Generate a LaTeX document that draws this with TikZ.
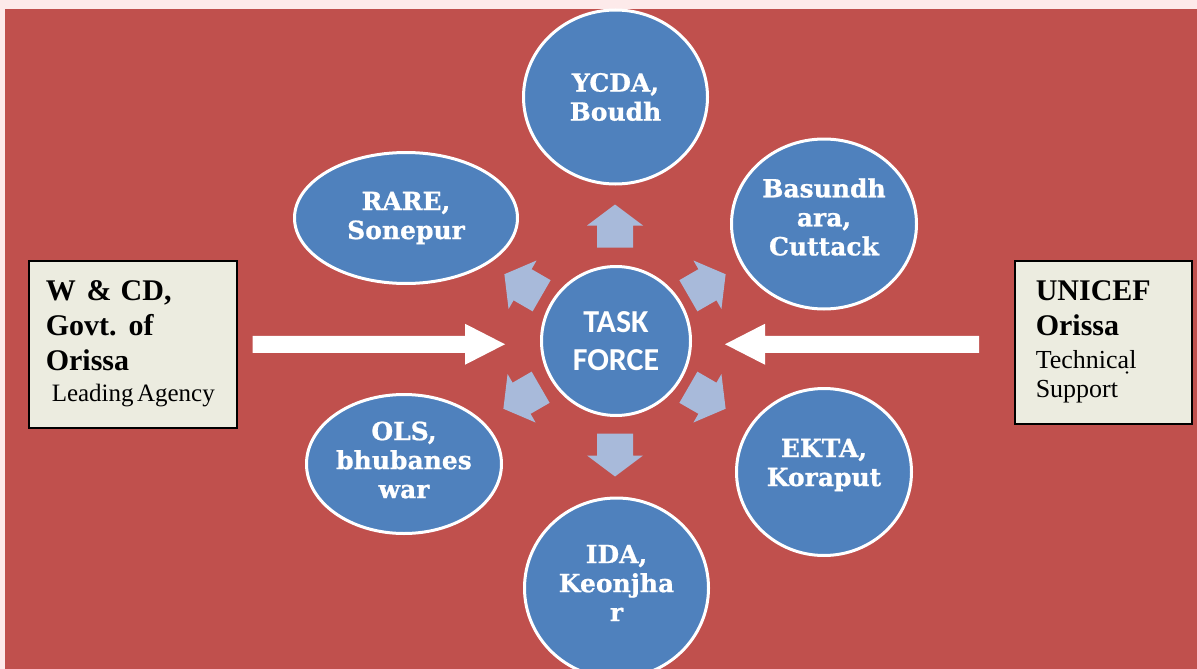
\documentclass[tikz,border=0pt]{standalone}
\usepackage{fontspec}
\setmainfont{Liberation Serif}
\newfontfamily\blobfont{DejaVu Serif}[BoldFeatures={FakeBold=0.8}]
\newfontfamily\tffont{Carlito}
\usetikzlibrary{shapes.geometric,calc}
\definecolor{bgred}{RGB}{192,80,77}
\definecolor{bgpink}{RGB}{253,234,234}
\definecolor{blobblue}{RGB}{79,129,189}
\definecolor{arrowblue}{RGB}{168,186,218}
\definecolor{boxfill}{RGB}{236,236,224}
\begin{document}
\begin{tikzpicture}[x=1pt,y=-1pt,
  blob/.style={ellipse, draw=white, line width=3pt, fill=blobblue, inner sep=0pt},
  ctext/.style={text=white, font=\blobfont\bfseries\fontsize{25}{29}\selectfont, align=center, inner sep=0pt},
  infobox/.style={draw=black, line width=1.5pt, fill=boxfill, align=left, anchor=north west, inner ysep=0pt},
  bigarrow/.style={fill=white},
  smallarrow/.pic={\fill[arrowblue] (-21.5,-18) -- (0.5,-18) -- (0.5,-28) -- (21.5,0) -- (0.5,28) -- (0.5,18) -- (-21.5,18) -- cycle;}
]
\useasboundingbox (0,0) rectangle (1197,669);
\clip (0,0) rectangle (1197,669);
\fill[bgpink] (0,0) rectangle (1197,669);
\fill[bgred] (5,9) rectangle (1197,669);

% outer blobs
\node[blob, minimum width=184, minimum height=174, label={[ctext]center:{YCDA,\\Boudh}}] (ycda) at (615.5,97) {};
\node[blob, minimum width=223, minimum height=131, label={[ctext]center:{RARE,\\Sonepur}}] (rare) at (406,218) {};
\node[blob, minimum width=185, minimum height=170, label={[ctext,yshift=7pt]center:{Basundh\\ara,\\Cuttack}}] (basu) at (824,224) {};
\node[blob, minimum width=175, minimum height=167, label={[ctext,yshift=7pt]center:{EKTA,\\Koraput}}] (ekta) at (824,472) {};
\node[blob, minimum width=184, minimum height=180, label={[ctext,yshift=5pt]center:{IDA,\\Keonjha\\r}}] (ida) at (616.5,588) {};
\node[blob, minimum width=195, minimum height=139, label={[ctext,yshift=4pt]center:{OLS,\\bhubanes\\war}}] (ols) at (404,464) {};

% centre
\node[circle, draw=white, line width=3pt, fill=blobblue, minimum size=149, text=white,
      font=\tffont\bfseries\fontsize{32}{38}\selectfont, align=center, inner sep=0pt] (tf) at (616,341) {TASK\\FORCE};

% small block arrows
\pic[rotate=90]  at (615,226) {smallarrow};
\pic[rotate=-90] at (615,455) {smallarrow};
\pic[rotate=30]  at (707,285) {smallarrow};
\pic[rotate=-30] at (707,398) {smallarrow};
\pic[rotate=150] at (523,285) {smallarrow};
\pic[rotate=210] at (522,398) {smallarrow};

% side boxes
\node[infobox, minimum width=208, minimum height=167, text width=174, inner xsep=17] (wcd) at (28,260)
  {\fontsize{30}{35}\selectfont\bfseries
   \begin{tabular}{@{}l@{}}
   W\hspace{11pt}\&\hspace{9pt}CD,\\
   Govt.\hspace{12pt}of\\
   Orissa\\[-4pt]
   \mdseries\fontsize{25}{35}\selectfont\hspace*{6pt}Leading Agency
   \end{tabular}};
\node[infobox, minimum width=177, minimum height=163, text width=135, inner xsep=21] (unicef) at (1014,260)
  {\fontsize{30}{35}\selectfont\bfseries
   \begin{tabular}{@{}l@{}}
   UNICEF\\
   Orissa\\[-2pt]
   \mdseries\fontsize{26}{35}\selectfont Technical\\[-6pt]
   \mdseries\fontsize{26}{35}\selectfont Support
   \end{tabular}};
\fill (1127,372.5) circle (1.3);

% big white arrows
\coordinate (la) at ([xshift=15pt]wcd.east);
\coordinate (lb) at (la -| tf.west);
\coordinate (lt) at ([xshift=-35pt]lb);
\fill[bigarrow] ($(la)+(0,-8.5)$) -- ($(lt)+(-40,-8.5)$) -- ($(lt)+(-40,-20.5)$) -- (lt)
  -- ($(lt)+(-40,20.5)$) -- ($(lt)+(-40,8.5)$) -- ($(la)+(0,8.5)$) -- cycle;
\coordinate (rb) at (la -| unicef.west);
\coordinate (ra) at ([xshift=-35pt]rb);
\coordinate (rc) at (la -| tf.east);
\coordinate (rt) at ([xshift=33pt]rc);
\fill[bigarrow] ($(ra)+(0,-8.5)$) -- ($(rt)+(40,-8.5)$) -- ($(rt)+(40,-20.5)$) -- (rt)
  -- ($(rt)+(40,20.5)$) -- ($(rt)+(40,8.5)$) -- ($(ra)+(0,8.5)$) -- cycle;
\end{tikzpicture}
\end{document}
